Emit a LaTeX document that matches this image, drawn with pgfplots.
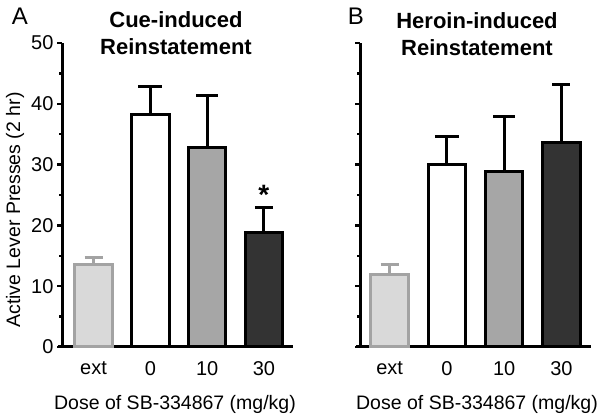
\documentclass[border=0pt]{standalone}
\usepackage{fontspec}
\setmainfont{Liberation Sans}
\usepackage{pgfplots}
\pgfplotsset{compat=1.18}
\definecolor{extfill}{HTML}{D9D9D9}
\definecolor{extdraw}{HTML}{A3A3A3}
\definecolor{tenfill}{HTML}{A6A6A6}
\definecolor{thirtyfill}{HTML}{333333}
\pgfplotsset{
  panel/.style={
    scale only axis, width=231pt, height=304pt,
    ymin=0, ymax=50, ytick={0,10,...,50}, minor ytick={5,15,...,45},
    axis x line*=bottom, axis y line*=left,
    axis line style={line width=3pt},
    x axis line style={shorten <=-4pt},
    tick align=outside, major tick length=5pt, minor tick length=3pt,
    ytick style={line width=2.5pt, black},
    minor tick style={line width=2.5pt, black},
    xtick style={draw=none},
    xtick={0,1,2,3}, xticklabels={ext,0,10,30},
    tick label style={font=\fontsize{20}{20}\selectfont},
    xticklabel style={yshift=-6pt},
    /pgf/number format/assume math mode=true,
    clip=false,
  },
  barbase/.style={ybar, bar width=37.5pt, bar shift=0pt, line width=3pt},
  extbar/.style={barbase, fill=extfill, draw=extdraw,
    error bars/.cd, y dir=plus, y explicit,
    error bar style={line width=3pt, draw=extdraw},
    error mark options={rotate=90, draw=extdraw, line width=3pt, mark size=9pt}},
  zerobar/.style={barbase, fill=white, draw=black,
    error bars/.cd, y dir=plus, y explicit,
    error bar style={line width=3pt, draw=black},
    error mark options={rotate=90, draw=black, line width=3pt, mark size=12pt}},
  tenbar/.style={barbase, fill=tenfill, draw=black,
    error bars/.cd, y dir=plus, y explicit,
    error bar style={line width=3pt, draw=black},
    error mark options={rotate=90, draw=black, line width=3pt, mark size=11pt}},
  thirtybar/.style={barbase, fill=thirtyfill, draw=black,
    error bars/.cd, y dir=plus, y explicit,
    error bar style={line width=3pt, draw=black},
    error mark options={rotate=90, draw=black, line width=3pt, mark size=9pt}},
}
\begin{document}
\begin{tikzpicture}
\useasboundingbox (0,0) rectangle (600pt,417pt);
% Panel A
\begin{axis}[panel, at={(62pt,70pt)}, anchor=south west, xmin=-0.555, xmax=3.512]
\addplot[extbar] coordinates {(0,13.6) +- (0,1.1)};
\addplot[zerobar] coordinates {(1,38.3) +- (0,4.6)};
\addplot[tenbar] coordinates {(2,32.8) +- (0,8.5)};
\addplot[thirtybar] coordinates {(3,18.8) +- (0,4.1)};
\node[font=\bfseries\fontsize{28}{28}\selectfont, anchor=base] at (axis cs:3,23.4) {*};
\end{axis}
% Panel B
\begin{axis}[panel, at={(360pt,70pt)}, anchor=south west, xmin=-0.518, xmax=3.517, yticklabel=\empty]
\addplot[extbar] coordinates {(0,12.0) +- (0,1.5)};
\addplot[zerobar] coordinates {(1,30.0) +- (0,4.6)};
\addplot[tenbar] coordinates {(2,28.9) +- (0,9.0)};
\addplot[thirtybar] coordinates {(3,33.7) +- (0,9.4)};
\end{axis}
% Titles and labels
\node[font=\bfseries\fontsize{22}{27}\selectfont, align=center] at (176pt,383.5pt) {Cue-induced\\Reinstatement};
\node[font=\bfseries\fontsize{22}{27}\selectfont, align=center] at (477pt,382.5pt) {Heroin-induced\\Reinstatement};
\node[font=\fontsize{24}{24}\selectfont] at (20pt,401pt) {A};
\node[font=\fontsize{24}{24}\selectfont] at (356pt,401pt) {B};
\node[font=\fontsize{19.5}{19.5}\selectfont] at (175pt,13pt) {Dose of SB-334867 (mg/kg)};
\node[font=\fontsize{19.5}{19.5}\selectfont] at (477pt,13pt) {Dose of SB-334867 (mg/kg)};
\node[font=\fontsize{19.5}{19.5}\selectfont, rotate=90] at (15pt,207pt) {Active Lever Presses (2 hr)};
\end{tikzpicture}
\end{document}
